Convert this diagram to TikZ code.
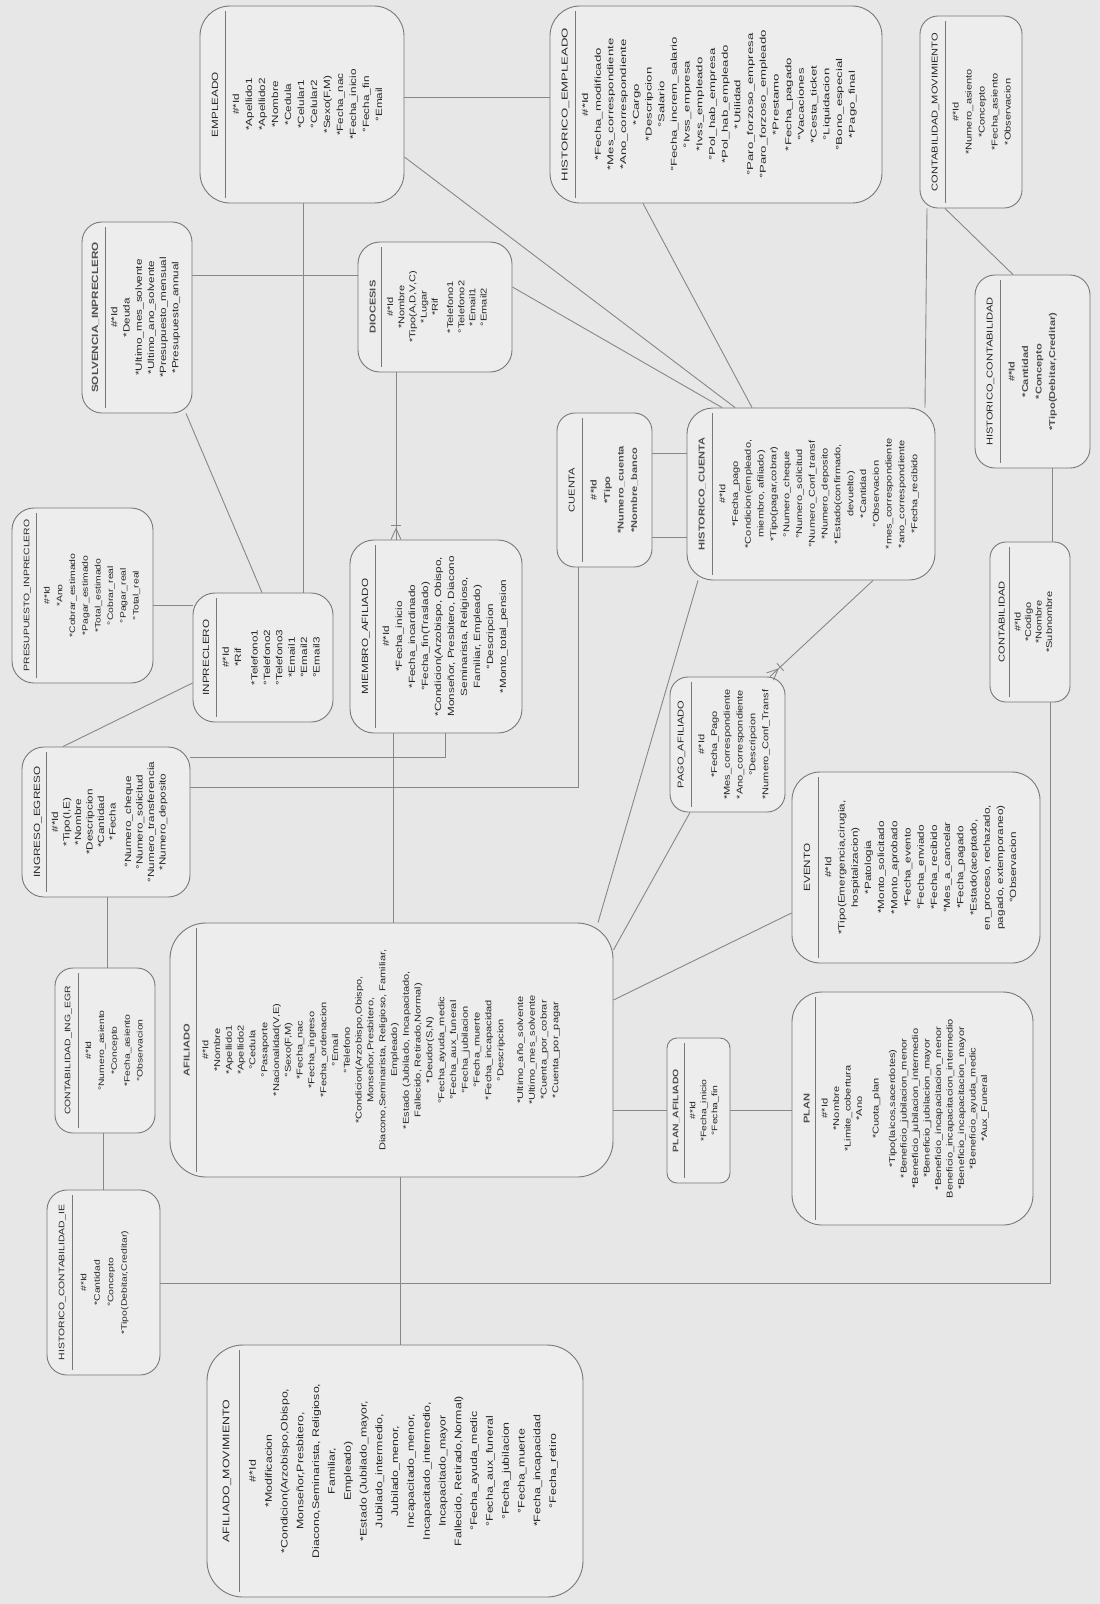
\documentclass[tikz,border=0pt]{standalone}
\usepackage{fontspec}
\setmainfont{Liberation Sans}
\newfontfamily\erf{Liberation Sans}[FakeStretch=1.3]
\newfontfamily\erw{Liberation Sans}[FakeStretch=1.55]
\usetikzlibrary{calc}
\definecolor{bgc}{RGB}{231,231,231}
\definecolor{boxf}{RGB}{237,237,237}
\definecolor{boxc}{RGB}{120,120,120}
\definecolor{txtc}{RGB}{40,40,40}
\definecolor{linec}{RGB}{135,135,135}
\definecolor{smc}{RGB}{80,80,80}
\pgfdeclarelayer{bg}
\pgfsetlayers{bg,main}
\tikzset{
  ent/.style={draw=boxc, fill=boxf, line width=0.9pt, inner sep=0pt},
  etxt/.style={rotate=90, anchor=north, align=center, inner sep=0pt, text=txtc},
  conn/.style={draw=linec, line width=0.9pt},
}
\newcommand\sepline{{\color{boxc}\rule[3pt]{\linewidth}{0.7pt}}}
\newcommand\smg[1]{{\bfseries\color{smc}#1}}
\newcommand\hd[1]{#1\\[-2pt]\sepline\\[-3pt]}
\newcommand\mA{*}
\newcommand\oA{°}
\newcommand\fs[2]{\erf\fontsize{#1}{#2}\selectfont}
\newcommand\fw[2]{\erw\fontsize{#1}{#2}\selectfont}
% \mkent[text shift]{name}{x1}{y1}{x2}{y2}{corner radius}{font}{text}
\newcommand\mkent[9][12]{%
  \pgfmathsetmacro\entw{#5-#3}%
  \pgfmathsetmacro\enth{#6-#4}%
  \pgfmathsetmacro\entcx{(#3+#5)/2}%
  \pgfmathsetmacro\entcy{(#4+#6)/2}%
  \pgfmathsetmacro\enttw{#6-#4-10}%
  \node[ent,rounded corners=#7pt,minimum width=\entw pt,minimum height=\enth pt] (#2) at (\entcx,\entcy) {};
  \node[etxt,text width=\enttw pt,font=#8] (#2-t) at ([xshift=#1pt]#2.west) {#9};
}
\newcommand\crowft[2]{%
  \draw[conn] ($(#1)!11pt!(#2)$) -- ($(#1)!5pt!90:(#2)$)
              ($(#1)!11pt!(#2)$) -- ($(#1)!5pt!-90:(#2)$);
  \coordinate (cwbar) at ($(#1)!14pt!(#2)$);
  \draw[conn] ($(cwbar)!5pt!90:(#2)$) -- ($(cwbar)!5pt!-90:(#2)$);
}
\begin{document}
\begin{tikzpicture}[x=1pt,y=-1pt]
\useasboundingbox (0,0) rectangle (1100,1604);

% ---------------- entities ----------------
\mkent{emp}{200}{6}{404}{203}{30}{\fs{9}{13}}{\hd{EMPLEADO}\#\mA Id\\ \mA Apellido1\\ \mA Apellido2\\ \mA Nombre\\ \mA Cedula\\ \mA Celular1\\ \oA Celular2\\ \mA Sexo(F,M)\\ \mA Fecha\_nac\\ \mA Fecha\_inicio\\ \oA Fecha\_fin\\ \oA Email}

\mkent{hemp}{550}{6}{882}{203}{30}{\fw{8.5}{12.7}}{\hd{HISTORICO\_EMPLEADO}\#\mA Id\\ \mA Fecha\_modificado\\ \mA Mes\_correspondiente\\ \mA Ano\_correspondiente\\ \mA Cargo\\ \mA Descripcion\\ \oA Salario\\ \oA Fecha\_increm\_salario\\ \oA Ivss\_empresa\\ \mA Ivss\_empleado\\ \oA Pol\_hab\_empresa\\ \mA Pol\_hab\_empleado\\ \mA Utilidad\\ \oA Paro\_forzoso\_empresa\\ \oA Paro\_forzoso\_empleado\\ \mA Prestamo\\ \mA Fecha\_pagado\\ \oA Vacaciones\\ \mA Cesta\_ticket\\ \oA Liquidacion\\ \oA Bono\_especial\\ \mA Pago\_final}

\mkent{cmov}{920}{16}{1022}{208}{18}{\fs{8.5}{13}}{\hd{CONTABILIDAD\_MOVIMIENTO}\#\mA Id\\ \mA Numero\_asiento\\ \mA Concepto\\ \mA Fecha\_asiento\\ \mA Observacion}

\mkent[10]{solv}{82}{222}{192}{413}{20}{\fs{9}{12.2}}{\hd{\smg{SOLVENCIA\_INPRECLERO}}\#\mA Id\\ \mA Deuda\\ \mA Ultimo\_mes\_solvente\\ \mA Ultimo\_ano\_solvente\\ \mA Presupuesto\_mensual\\ \mA Presupuesto\_annual}

\mkent{dioc}{358}{242}{512}{372}{22}{\fs{8.5}{11.2}}{\hd{\smg{DIOCESIS}}\#\mA Id\\ \mA Nombre\\ \mA Tipo(A,D,V,C)\\ \mA Lugar\\ \mA Rif\\[4pt] \mA Telefono1\\ \oA Telefono2\\ \mA Email1\\ \oA Email2}

\mkent{pres}{12}{508}{153}{683}{22}{\fs{8}{12.7}}{\hd{PRESUPUESTO\_INPRECLERO}\#\mA Id\\ \mA Ano\\ \mA Cobrar\_estimado\\ \mA Pagar\_estimado\\ \mA Total\_estimado\\ \oA Cobrar\_real\\ \oA Pagar\_real\\ \oA Total\_real}

\mkent[10]{inpr}{193}{593}{333}{722}{22}{\fs{9}{12.4}}{\hd{INPRECLERO}\#\mA Id\\ \mA Rif\\[4pt] \mA Telefono1\\ \oA Telefono2\\ \oA Telefono3\\ \mA Email1\\ \oA Email2\\ \oA Email3}

\mkent{miem}{350}{540}{522}{733}{24}{\fs{9}{13}}{\hd{MIEMBRO\_AFILIADO}\#\mA Id\\ \mA Fecha\_inicio\\ \mA Fecha\_incardinado\\ \oA Fecha\_fin(Traslado)\\ \mA Condicion(Arzobispo, Obispo,\\ Monseñor, Presbitero, Diacono\\ Seminarista, Religioso,\\ Familiar, Empleado)\\ \oA Descripcion\\ \mA Monto\_total\_pension}

\mkent{cuen}{557}{413}{652}{567}{18}{\fs{8.5}{13.5}}{\hd{CUENTA}\smg{\#\mA Id}\\ \smg{\mA Tipo}\\ \smg{\mA Numero\_cuenta}\\ \smg{\mA Nombre\_banco}}

\mkent{hcue}{687}{408}{935}{580}{26}{\fs{8.5}{12.8}}{\hd{\smg{HISTORICO\_CUENTA}}\#\mA Id\\ \mA Fecha\_pago\\ \mA Condicion(empleado,\\ miembro, afiliado)\\ \mA Tipo(pagar,cobrar)\\ \oA Numero\_cheque\\ \oA Numero\_solicitud\\ \oA Numero\_Conf\_transf\\ \mA Numero\_deposito\\ \mA Estado(confirmado,\\ devuelto)\\ \mA Cantidad\\ \oA Observacion\\ \mA mes\_correspondiente\\ \mA ano\_correspondiente\\ \mA Fecha\_recibido}

\mkent{hcon}{975}{275}{1090}{468}{20}{\fs{8.5}{13.5}}{\hd{HISTORICO\_CONTABILIDAD}\smg{\#\mA Id}\\ \smg{\mA Cantidad}\\ \smg{\mA Concepto}\\ \smg{\mA Tipo(Debitar,Creditar)}}

\mkent[9]{cont}{990}{542}{1070}{702}{16}{\fs{8.5}{10.5}}{\hd{CONTABILIDAD}\#\mA Id\\ \mA Codigo\\ \mA Nombre\\ \mA Subnombre}

\mkent{ingr}{22}{747}{190}{897}{22}{\fs{9}{11.5}}{\hd{INGRESO\_EGRESO}\#\mA Id\\ \mA Tipo(I,E)\\ \mA Nombre\\ \mA Descripcion\\ \mA Cantidad\\ \mA Fecha\\[4pt] \oA Numero\_cheque\\ \oA Numero\_solicitud\\ \oA Numero\_transferencia\\ \mA Numero\_deposito}

\mkent[10]{cing}{55}{968}{155}{1133}{18}{\fs{8}{12.9}}{\hd{CONTABILIDAD\_ING\_EGR}\#\mA Id\\ \oA Numero\_asiento\\ \mA Concepto\\ \mA Fecha\_asiento\\ \oA Observacion}

\mkent[8]{pago}{670}{677}{785}{812}{18}{\fs{8.5}{12.8}}{\hd{PAGO\_AFILIADO}\#\mA Id\\ \mA Fecha\_Pago\\ \mA Mes\_correspondiente\\ \mA Ano\_correspondiente\\ \oA Descripcion\\ \mA Numero\_Conf\_Transf}

\mkent{evento}{792}{772}{1040}{963}{28}{\fs{9}{13.2}}{\hd{EVENTO}\#\mA Id\\ \mA Tipo(Emergencia,cirugia,\\ hospitalizacion)\\ \mA Patologia\\ \mA Monto\_solicitado\\ \mA Monto\_aprobado\\ \mA Fecha\_evento\\ \oA Fecha\_enviado\\ \mA Fecha\_recibido\\ \oA Mes\_a\_cancelar\\ \mA Fecha\_pagado\\ \mA Estado(aceptado,\\ en\_proceso, rechazado,\\ pagado, extemporaneo)\\ \oA Observacion}

\mkent{plan}{792}{992}{1033}{1225}{30}{\fs{8.5}{11.5}}{\hd{\smg{PLAN}}\#\mA Id\\ \mA Nombre\\ \mA Limite\_cobertura\\ \mA Ano\\[5pt] \mA Cuota\_plan\\[5pt] \mA Tipo(laicos,sacerdotes)\\ \mA Beneficio\_jubilacion\_menor\\ \mA Beneficio\_jubilacion\_intermedio\\ \mA Beneficio\_jubilacion\_mayor\\ \mA Beneficio\_incapacitacion\_menor\\ Beneficio\_incapacitacion\_intermedio\\ \mA Beneficio\_incapacitacion\_mayor\\ \mA Beneficio\_ayuda\_medic\\ \mA Aux\_Funeral}

\mkent[6]{plaf}{667}{1038}{730}{1183}{10}{\fs{8}{11}}{\hd{\smg{PLAN\_AFILIADO}}\#\mA Id\\ \mA Fecha\_inicio\\ \oA Fecha\_fin}

\mkent[14]{afil}{170}{923}{613}{1177}{36}{\fs{8.5}{11.8}}{\hd{\smg{AFILIADO}}\#\mA Id\\ \mA Nombre\\ \mA Apellido1\\ \mA Apellido2\\ \oA Cedula\\ \oA Pasaporte\\ \mA Nacionalidad(V,E)\\ \oA Sexo(F,M)\\ \mA Fecha\_nac\\ \mA Fecha\_ingreso\\ \mA Fecha\_ordenacion\\ \oA Email\\ \oA Telefono\\ \mA Condicion(Arzobispo,Obispo,\\ Monseñor,Presbitero,\\ Diacono,Seminarista, Religioso, Familiar,\\ Empleado)\\ \mA Estado (Jubilado, Incapacitado,\\ Fallecido, Retirado,Normal)\\ \mA Deudor(S,N)\\ \oA Fecha\_ayuda\_medic\\ \oA Fecha\_aux\_funeral\\ \oA Fecha\_jubilacion\\ \oA Fecha\_muerte\\ \mA Fecha\_incapacidad\\ \oA Descripcion\\[8pt] \mA Ultimo\_año\_solvente\\ \mA Ultimo\_mes\_solvente\\ \mA Cuenta\_por\_cobrar\\ \mA Cuenta\_por\_pagar}

\mkent{hcie}{47}{1190}{160}{1375}{20}{\fs{8}{13.5}}{\hd{HISTORICO\_CONTABILIDAD\_IE}\#\mA Id\\ \mA Cantidad\\ \oA Concepto\\ \mA Tipo(Debitar,Creditar)}

\mkent[16]{amov}{207}{1345}{583}{1597}{36}{\fs{9.5}{15.8}}{\hd{AFILIADO\_MOVIMIENTO}\#\mA Id\\ \mA Modificacion\\ \mA Condicion(Arzobispo,Obispo,\\ Monseñor,Presbitero,\\ Diacono,Seminarista, Religioso,\\ Familiar,\\ Empleado)\\ \mA Estado (Jubilado\_mayor,\\ Jubilado\_intermedio,\\ Jubilado\_menor,\\ Incapacitado\_menor,\\ Incapacitado\_intermedio,\\ Incapacitado\_mayor\\ Fallecido, Retirado,Normal)\\ \oA Fecha\_ayuda\_medic\\ \oA Fecha\_aux\_funeral\\ \oA Fecha\_jubilacion\\ \oA Fecha\_muerte\\ \mA Fecha\_incapacidad\\ \oA Fecha\_retiro}

% ---------------- connectors ----------------
\begin{pgfonlayer}{bg}
\fill[bgc] (0,0) rectangle (1100,1604);
\draw[conn] (solv.east |- 0,275) -- (dioc.west |- 0,275);
\draw[conn] (emp.south -| 303,0) -- (inpr.north -| 303,0);
\draw[conn] (solv.south -| 186,0) -- (inpr.north -| 262,0);
\draw[conn] (pres.east |- 0,605) -- (inpr.west |- 0,605);
\draw[conn] (inpr.west |- 0,683) -- (ingr.north -| 63,0);
\draw[conn] (dioc.south -| 396,0) -- (miem.north -| 396,0);
\draw[conn] (emp.east |- 0,97) -- (hemp.west |- 0,97);
\draw[conn] (emp.east |- 0,157) -- (hcue.north -| 735,0);
\draw[conn] (dioc.east |- 0,287) -- (hcue.north -| 722,0);
\draw[conn] (hemp.south -| 643,0) -- (hcue.north -| 752,0);
\draw[conn] (cmov.south -| 927,0) -- (hcue.north -| 925,0);
\draw[conn] (cmov.south -| 945,0) -- (hcon.north -| 1013,0);
\draw[conn] (hcon.south -| 1052,0) -- (cont.north -| 1052,0);
\draw[conn] (cuen.east |- 0,453) -- (hcue.west |- 0,453);
\draw[conn] (cuen.east |- 0,537) -- (hcue.west |- 0,537);
\draw[conn] (cuen.south -| 578,0) |- (ingr.east |- 0,787);
\draw[conn] (ingr.east |- 0,757) -| (miem.south -| 445,0);
\draw[conn] (miem.south -| 393,0) -- (afil.north -| 393,0);
\draw[conn] (hcue.south -| 873,0) -- (pago.north -| 770,0);
\draw[conn] (hcue.south -| 698,0) -- (afil.north -| 598,0);
\draw[conn] (pago.south -| 690,0) -- (afil.east |- 0,950);
\draw[conn] (afil.east |- 0,1000) -- (evento.west |- 0,913);
\draw[conn] (afil.east |- 0,1110) -- (plaf.west |- 0,1110);
\draw[conn] (plaf.east |- 0,1110) -- (plan.west |- 0,1110);
\draw[conn] (ingr.south -| 107,0) -- (cing.north -| 107,0);
\draw[conn] (cing.south -| 103,0) -- (hcie.north -| 103,0);
\draw[conn] (afil.south -| 400,0) -- (amov.north -| 400,0);
\draw[conn] (cont.south -| 1050,0) |- (hcie.east |- 0,1283);
\end{pgfonlayer}
% crow's feet
\coordinate (mfA) at (miem.north -| 396,0);
\coordinate (mfB) at (dioc.south -| 396,0);
\crowft{mfA}{mfB}
\coordinate (pfA) at (pago.north -| 770,0);
\coordinate (pfB) at (hcue.south -| 873,0);
\crowft{pfA}{pfB}
\end{tikzpicture}
\end{document}
